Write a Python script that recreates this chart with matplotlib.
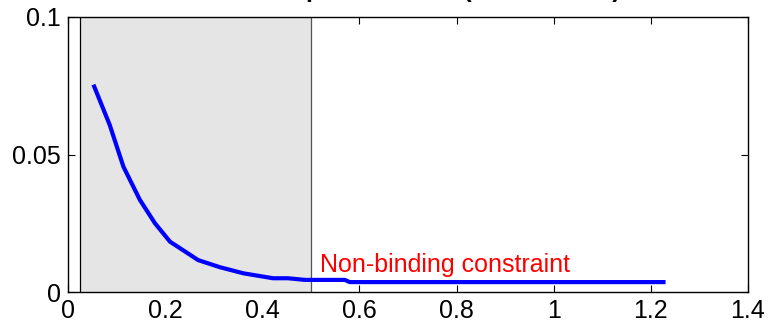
import matplotlib
matplotlib.use('Agg')
import matplotlib.pyplot as plt

plt.rcParams['font.family'] = ['Liberation Sans', 'DejaVu Sans']

# multiplier path
x_vals = [0.054, 0.086, 0.114, 0.148, 0.179, 0.210, 0.268, 0.313, 0.361,
          0.422, 0.453, 0.488, 0.520, 0.570, 0.580, 1.226]
mult = [0.0747, 0.0607, 0.0456, 0.0335, 0.0250, 0.0183, 0.0116, 0.0090, 0.0068,
        0.0050, 0.0050, 0.0044, 0.0044, 0.0044, 0.0036, 0.0036]

x_ticks = [0, 0.2, 0.4, 0.6, 0.8, 1.0, 1.2, 1.4]
x_labels = ['0', '0.2', '0.4', '0.6', '0.8', '1', '1.2', '1.4']
y_ticks = [0, 0.05, 0.1]
y_labels = ['0', '0.05', '0.1']

band_lo, band_hi = 0.025, 0.5
note = 'Non-binding constraint'
title = 'Shadow price of debt (households)'

fig = plt.figure(figsize=(7.68, 3.27), dpi=100)
ax = fig.add_axes([68/768, 1 - 292/327, 680/768, 275/327])

ax.set_axisbelow(True)
ax.axvspan(band_lo, band_hi, facecolor='#e5e5e5', edgecolor='none', zorder=1)
ax.axvline(band_lo, color='k', lw=0.9, zorder=1.5)
ax.axvline(band_hi, color='#555555', lw=0.9, zorder=1.5)

ax.plot(x_vals, mult, color='#0000ff', lw=3, solid_joinstyle='round', zorder=3)
ax.text(0.518, 0.0073, note, color='red', fontsize=18, ha='left', va='baseline')

ax.set_xlim(0, 1.4)
ax.set_ylim(0, 0.1)
ax.set_xticks(x_ticks)
ax.set_xticklabels(x_labels)
ax.set_yticks(y_ticks)
ax.set_yticklabels(y_labels)
ax.tick_params(direction='in', length=5, width=0.8, top=True, right=True,
               labelsize=18, pad=5)
for s in ax.spines.values():
    s.set_linewidth(1.0)
    s.set_color('k')

# title sits above the top edge, only its descenders reach into the figure
fig.text(621 / 768, 1 + 3 / 327, title, fontsize=18, fontweight='bold',
         ha='right', va='baseline')

fig.savefig('out.png', dpi=100)
